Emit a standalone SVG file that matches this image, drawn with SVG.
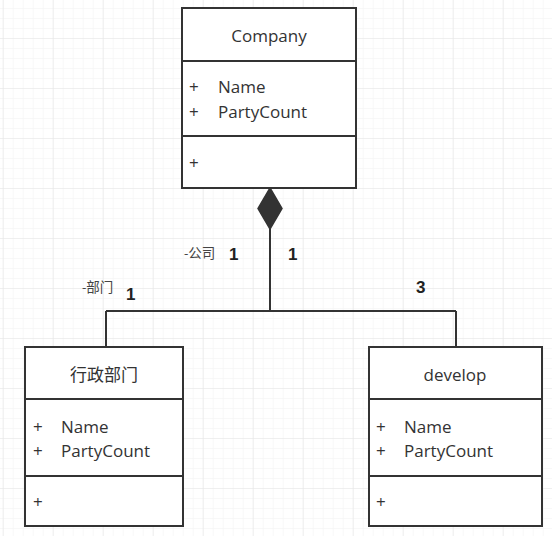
<svg xmlns="http://www.w3.org/2000/svg" width="552" height="536" viewBox="0 0 552 536">
<defs>
<pattern id="minor" x="2.7" y="8" width="10" height="10" patternUnits="userSpaceOnUse">
<path d="M0 0H10M0 0V10" fill="none" stroke="#f2f2f2" stroke-width="1"/>
</pattern>
<pattern id="major" x="2.7" y="-12" width="50" height="50" patternUnits="userSpaceOnUse">
<path d="M0 0H50M0 0V50" fill="none" stroke="#e6e6e6" stroke-width="1.2"/>
</pattern>
</defs>
<style>
.box{fill:#fff;stroke:#333;stroke-width:2}
.div{stroke:#333;stroke-width:2}
.t{font-family:"Open Sans","Noto Sans","Noto Sans CJK SC",sans-serif;font-size:17px;fill:#333}
.c{text-anchor:middle}
.lbl{font-family:"Open Sans","Noto Sans CJK SC",sans-serif;font-size:13.5px;fill:#444}
.m{font-family:"Liberation Sans","Noto Sans",sans-serif;font-size:17px;font-weight:bold;fill:#222}
.ln{fill:none;stroke:#333;stroke-width:2}
</style>
<rect width="552" height="536" fill="#fff"/>
<rect width="552" height="536" fill="url(#minor)"/>
<rect width="552" height="536" fill="url(#major)"/>

<g id="connectors">
<path class="ln" d="M270 229V311M106 311H456M106 311V347M456 311V347"/>
<path d="M270 188L282 208.5L270 229L258 208.5Z" fill="#333" stroke="#333" stroke-width="1.5"/>
<text class="lbl" x="184" y="258">-公司</text>
<text class="m" x="229" y="260">1</text>
<text class="m" x="288" y="260">1</text>
<text class="lbl" x="82" y="292">-部门</text>
<text class="m" x="126" y="300">1</text>
<text class="m" x="416" y="293">3</text>
</g>

<g id="company">
<rect class="box" x="182" y="8" width="174" height="180"/>
<line class="div" x1="182" y1="61" x2="356" y2="61"/>
<line class="div" x1="182" y1="136" x2="356" y2="136"/>
<text class="t c" x="269" y="42">Company</text>
<text class="t" x="189" y="93">+</text>
<text class="t" x="218" y="93">Name</text>
<text class="t" x="189" y="118">+</text>
<text class="t" x="218" y="118">PartyCount</text>
<text class="t" x="189" y="169">+</text>
</g>

<g id="xingzheng">
<rect class="box" x="25" y="347" width="158" height="179"/>
<line class="div" x1="25" y1="399" x2="183" y2="399"/>
<line class="div" x1="25" y1="476" x2="183" y2="476"/>
<text class="t c" x="104" y="381">行政部门</text>
<text class="t" x="33" y="433">+</text>
<text class="t" x="61" y="433">Name</text>
<text class="t" x="33" y="457">+</text>
<text class="t" x="61" y="457">PartyCount</text>
<text class="t" x="33" y="508">+</text>
</g>

<g id="develop">
<rect class="box" x="369" y="347" width="173" height="179"/>
<line class="div" x1="369" y1="399" x2="542" y2="399"/>
<line class="div" x1="369" y1="476" x2="542" y2="476"/>
<text class="t c" x="455" y="381">develop</text>
<text class="t" x="376" y="433">+</text>
<text class="t" x="404" y="433">Name</text>
<text class="t" x="376" y="457">+</text>
<text class="t" x="404" y="457">PartyCount</text>
<text class="t" x="376" y="508">+</text>
</g>
</svg>
